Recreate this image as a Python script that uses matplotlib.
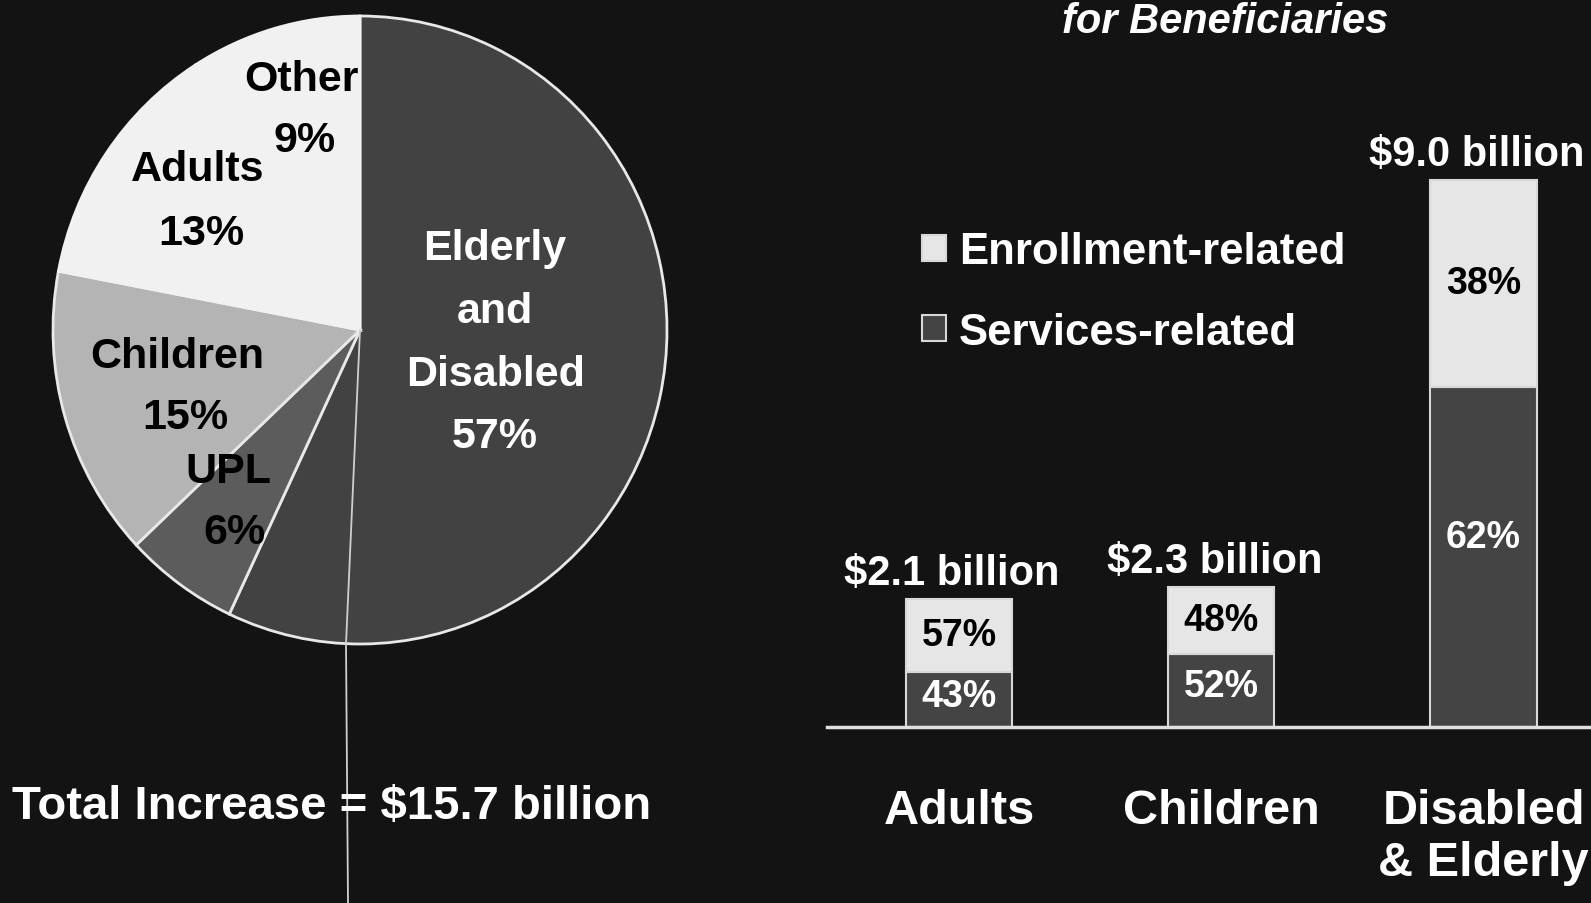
import matplotlib
matplotlib.use('Agg')
import matplotlib.pyplot as plt
from matplotlib.lines import Line2D

plt.rcParams['font.family'] = ['Liberation Sans', 'DejaVu Sans']
plt.rcParams['font.weight'] = 'bold'

# pie: share of the total increase
pie_names = ['Elderly\nand\nDisabled', 'UPL', 'Children', 'Adults', 'Other']
pie_shares = [57, 6, 15, 13, 9]

# bars: increase per group, split in services / enrollment
groups = ['Adults', 'Children', 'Disabled\n& Elderly']
totals = [2.1, 2.3, 9.0]
services_pct = [43, 52, 62]
enroll_pct = [57, 48, 38]
total_text = 'Total Increase = $15.7 billion'

bg = '#131313'
W, H = 1591, 904
fig = plt.figure(figsize=(W / 100, H / 100), dpi=100, facecolor=bg)

# ---------------- pie ----------------
axp = fig.add_axes([53 / W, 259 / H, 614 / W, 628 / H])
axp.set_facecolor(bg)
pie_colors = ['#424242', '#5c5c5c', '#b4b4b4', '#f1f1f1', '#f1f1f1']
wedges, _ = axp.pie(pie_shares, colors=pie_colors, startangle=90,
                    counterclock=False,
                    wedgeprops=dict(edgecolor='#e8e8e8', linewidth=2))
# no visible edge between the two white slices
for w in wedges[3:]:
    w.set_edgecolor(w.get_facecolor())
axp.set_aspect('auto')
axp.set_xlim(-1, 1)
axp.set_ylim(-1, 1)
axp.axis('off')

# label placement (x, y of each line, in radius units) and colour
pie_layout = {
    'Other': ([(-0.19, 0.80), (-0.18, 0.605)], 'black'),
    'Adults': ([(-0.53, 0.513), (-0.516, 0.31)], 'black'),
    'Children': ([(-0.595, -0.082), (-0.57, -0.278)], 'black'),
    'UPL': ([(-0.43, -0.448), (-0.41, -0.644)], 'black'),
    'Elderly\nand\nDisabled': ([(0.44, 0.26), (0.44, 0.059), (0.44, -0.14),
                                (0.44, -0.337)], 'white'),
}
for name, share in zip(pie_names, pie_shares):
    pos, col = pie_layout[name]
    lines = name.split('\n') + [f'{share}%']
    for (x, y), s in zip(pos, lines):
        axp.text(x, y, s, ha='center', va='center', fontsize=31, color=col)

# scan line running down from the pie centre
fig.add_artist(Line2D([360 / W, 346 / W, 348 / W],
                      [1 - 331 / H, 1 - 645 / H, 0],
                      transform=fig.transFigure, color='#cfcfcf', lw=1.3))

fig.text(12 / W, 1 - 807 / H, total_text, ha='left', va='center',
         fontsize=34, color='white')

# ---------------- bars ----------------
axb = fig.add_axes([827 / W, 176.5 / H, (W - 827) / W, 607.7 / H])
axb.set_facecolor('none')
x = list(range(len(groups)))
serv = [t * p / 100 for t, p in zip(totals, services_pct)]
enr = [t - s for t, s in zip(totals, serv)]
b1 = axb.bar(x, serv, width=0.405, color='#444444', edgecolor='#d8d8d8',
             linewidth=1.5, label='Services-related')
b2 = axb.bar(x, enr, width=0.405, bottom=serv, color='#e6e6e6',
             edgecolor='#d8d8d8', linewidth=1.5, label='Enrollment-related')
for i in x:
    axb.text(i, serv[i] * 0.56, f'{services_pct[i]}%', ha='center',
             va='center', fontsize=27, color='white')
    axb.text(i, serv[i] + enr[i] / 2, f'{enroll_pct[i]}%', ha='center',
             va='center', fontsize=27, color='black')
    axb.annotate(f'${totals[i]:.1f} billion', (i, totals[i]),
                 xytext=(-5, 4), textcoords='offset points', ha='center',
                 va='bottom', fontsize=30, color='white')
axb.set_xlim(-0.504, 2.41)
axb.set_ylim(0, 10)
axb.set_xticks(x, groups)
axb.tick_params(axis='x', length=0, pad=44, labelsize=35, labelcolor='white')
axb.set_yticks([])
for s in ['top', 'right', 'left']:
    axb.spines[s].set_visible(False)
axb.spines['bottom'].set_color('#e0e0e0')
axb.spines['bottom'].set_linewidth(2.5)

leg = axb.legend([b2, b1], ['Enrollment-related', 'Services-related'],
                 loc='center left', bbox_to_anchor=(900 / W, 1 - 293 / H),
                 bbox_transform=fig.transFigure, frameon=False, fontsize=31.5,
                 labelcolor='white', handlelength=0.55, handleheight=0.55,
                 handletextpad=0.3, labelspacing=0.9, borderpad=0)

fig.text(1225 / W, 1 - 22 / H, 'for Beneficiaries', ha='center', va='center',
         fontsize=30, style='italic', color='white')

fig.savefig('out.png', dpi=100, facecolor=bg)
